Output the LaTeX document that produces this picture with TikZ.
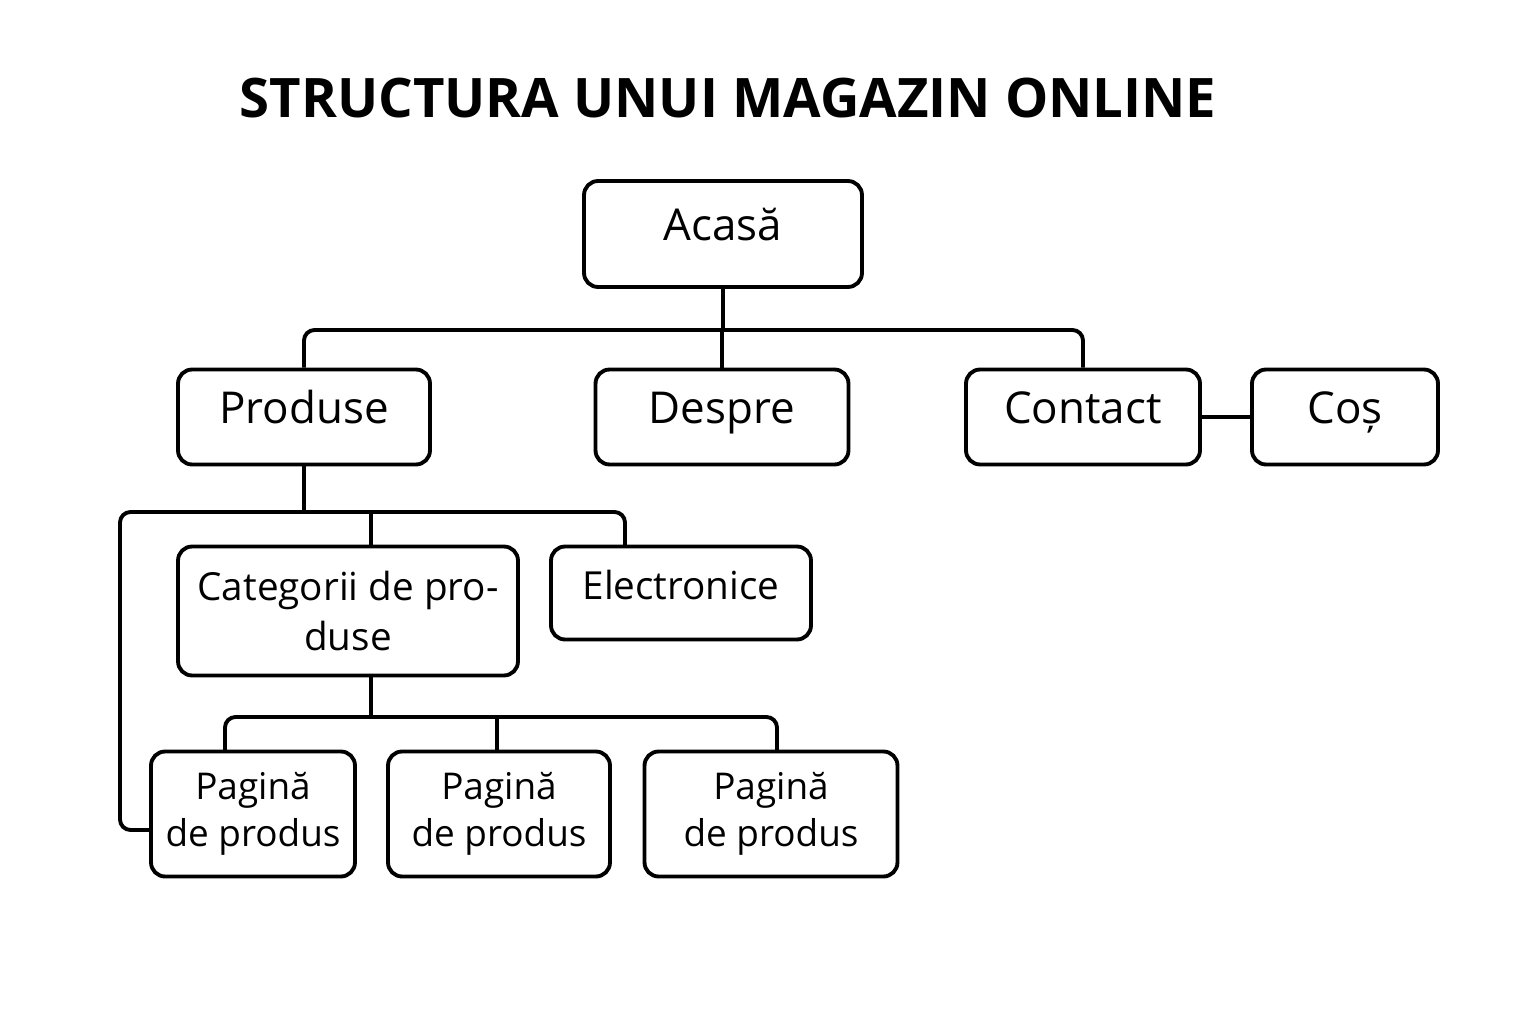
\documentclass[tikz,border=0pt]{standalone}
\usepackage{fontspec}
\setmainfont{Open Sans}
\usetikzlibrary{positioning}

\begin{document}
\begin{tikzpicture}[x=0.02cm,y=-0.02cm,
        box/.style={draw, line width=2.2pt, rounded corners=8pt, align=center,
            font=\fontsize{25}{30}\selectfont},
        single/.style={box, text height=1.75ex, text depth=0.42ex},
        page/.style={box, font=\fontsize{21}{27}\selectfont, minimum height=2.5cm},
        link/.style={line width=2.2pt, rounded corners=6pt}
    ]
    \useasboundingbox (0,0) rectangle (1536,1024);
    \node[font=\bfseries\fontsize{31}{36}\selectfont] (title) at (728,98) {STRUCTURA UNUI MAGAZIN ONLINE};
    % main level
    \node[single, minimum width=5.56cm, minimum height=2.12cm] (acasa) at (723,234) {Acasă};
    \node[single, minimum width=5.04cm, minimum height=1.9cm] (produse) at (304,417) {Produse};
    \node[single, minimum width=5.06cm, minimum height=1.9cm] (despre) at (722,417) {Despre};
    \node[single, minimum width=4.68cm, minimum height=1.9cm] (contact) at (1083,417) {Contact};
    \node[single, minimum width=3.72cm, minimum height=1.9cm] (cos) at (1345,417) {Coș};
    % products
    \node[box, minimum width=6.8cm, minimum height=2.58cm, font=\fontsize{22}{28}\selectfont] (categ) at (348,611) {Categorii de pro-\\duse};
    \node[single, minimum width=5.2cm, minimum height=1.86cm, font=\fontsize{22}{28}\selectfont] (electro) at (681,593) {Electronice};
    \node[page, minimum width=4.08cm] (pag1) at (253,814) {Pagină\\de produs};
    \node[page, minimum width=4.44cm] (pag2) at (499,814) {Pagină\\de produs};
    \node[page, minimum width=5.06cm] (pag3) at (771,814) {Pagină\\de produs};
    % connectors
    \coordinate (j1) at (723,330);
    \draw[link] (acasa.south) -- (j1);
    \draw[link] (produse.north) |- (j1) -| (contact.north);
    \draw[link] (despre.north) -- (despre.north |- j1);
    \draw[link] (contact.east) -- (cos.west);
    \coordinate (j2) at (304,512);
    \draw[link] (produse.south) -- (j2);
    \draw[link] (pag1.west |- 0,830) -- (120,830) -- (120,512) -- (625,512) -- (625,547);
    \draw[link] (371,512) -- (371,547);
    \draw[link] (371,676) -- (371,717);
    \draw[link] (225,752) -- (225,717) -- (777,717) -- (777,752);
    \draw[link] (497,717) -- (497,752);
\end{tikzpicture}
\end{document}
